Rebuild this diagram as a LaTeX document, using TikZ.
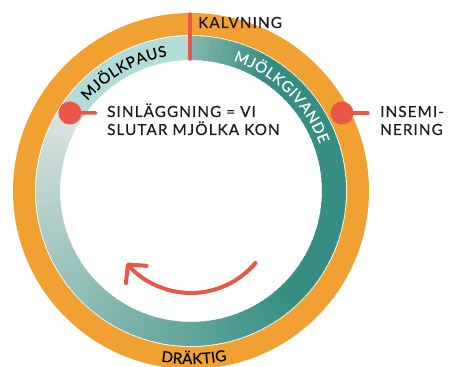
\documentclass[tikz,border=0pt]{standalone}
\usepackage{fontspec}
\setmainfont{Lato}
\usetikzlibrary{arrows.meta}
\usetikzlibrary{decorations.text}
\definecolor{ringorange}{HTML}{F0A131}
\definecolor{milkteal}{HTML}{368E82}
\definecolor{pauseteal}{HTML}{B2DCD8}
\definecolor{fadegray}{HTML}{DDE5E3}
\definecolor{markred}{HTML}{EA5647}
\definecolor{labelgray}{HTML}{1A1A1A}
\newcommand\labelfont{\fontsize{15.3}{18}\selectfont\addfontfeatures{LetterSpace=7,FakeBold=0.3}}
\newcommand\arcfont{\fontsize{15}{18}\selectfont\addfontfeatures{FakeBold=0.3}}
\tikzset{>=latex}
\tikzstyle{orange ring}=[draw=ringorange,line width=22pt]
\tikzstyle{milk ring}=[line width=24pt]
\tikzstyle{event dot}=[circle,fill=markred,inner sep=0pt,minimum size=23pt]
\tikzstyle{event line}=[draw=markred,line width=3.5pt,line cap=round]
\tikzstyle{event label}=[anchor=base west,inner sep=0pt,align=left,text=labelgray,font=\labelfont]
\tikzstyle{cycle arrow}=[-{Straight Barb[round,length=13pt,width=27pt]},draw=markred,line width=4pt,line cap=round]
\tikzstyle{ring text}=[decorate,decoration={text along path,text align={fit to path}}]

\begin{document}
\begin{tikzpicture}[x=1pt,y=1pt]

  \useasboundingbox (-191,-176) rectangle (260,191);
  \def\rmilk{143} % mid radius of inner ring
  \def\rpreg{167} % mid radius of outer ring
  \def\adry{147.2} % angle of dry-off

  % OUTER RING (pregnant)
  \draw[orange ring] (90:\rpreg) arc[start angle=90,end angle=-332.5,radius=\rpreg];

  % INNER RING, fading lactation part
  \foreach \a [evaluate=\a as \p using {max(0,min(100,55+1.5*(90-\a),(\a+212.5)/1.675))}] in {90,87.5,...,-210}{
    \draw[milk ring,draw=milkteal!\p!fadegray] (\a:\rmilk) arc[start angle=\a,end angle=\a-3.5,radius=\rmilk];
  }
  % dry period
  \draw[milk ring,draw=pauseteal] (\adry:\rmilk) arc[start angle=\adry,end angle=90,radius=\rmilk];

  % RING TEXTS
  \path[ring text,decoration={text={|\arcfont|MJÖLKPAUS}}]
    (139:137) arc[start angle=139,end angle=100,radius=137];
  \path[ring text,decoration={text={|\arcfont|MJÖLKGIVANDE},text color=white}]
    (72:137) arc[start angle=72,end angle=20,radius=137];
  \path[ring text,decoration={text={|\arcfont|DRÄKTIG}}]
    (-100:173) arc[start angle=-100,end angle=-78,radius=173];

  % CALVING
  \coordinate (calvtop) at (-1,177);
  \coordinate (calvbottom) at (-1,132);
  \draw[event line] (calvtop) -- (calvbottom);
  \node[event label] (calving) at (7,163) {KALVNING};

  % DRY-OFF
  \node[event dot] (dryoff) at (\adry:144) {};
  \coordinate (dryoffend) at (-95,78);
  \draw[event line] (dryoff.center) -- (dryoffend);
  \node[event label] (dryofftext) at (-84,56) {SINLÄGGNING = VI\\SLUTAR MJÖLKA KON};

  % INSEMINATION
  \node[event dot] (insem) at (151,78) {};
  \coordinate (insemend) at (177,78);
  \draw[event line] (insem.center) -- (insemend);
  \node[event label] (insemtext) at (189,56) {INSEMI-\\NERING};

  % CYCLE DIRECTION
  \draw[cycle arrow] (0,-18) ++(-40:84) arc[start angle=-40,end angle=-140,radius=84];

\end{tikzpicture}
\end{document}
